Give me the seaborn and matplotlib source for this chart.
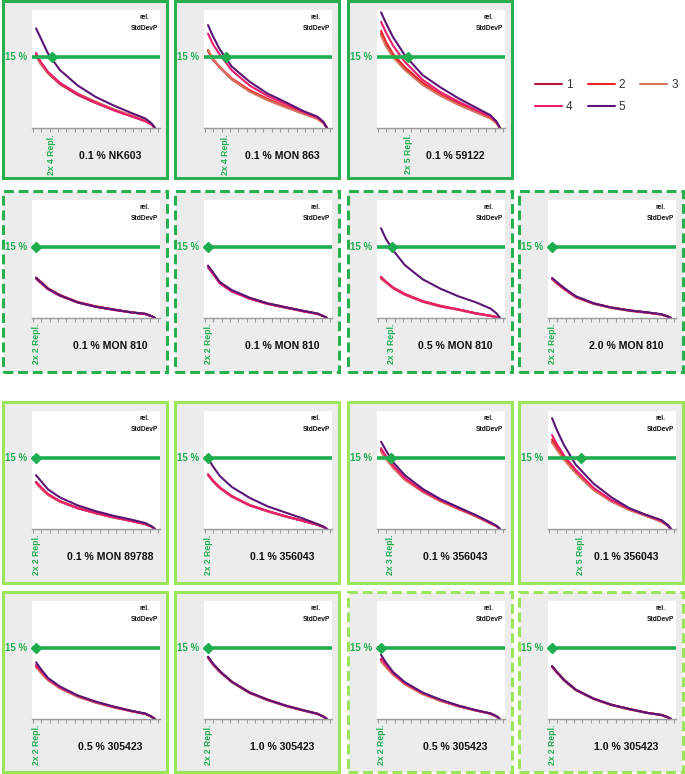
import numpy as np
import pandas as pd
import matplotlib
matplotlib.use("Agg")
import matplotlib.pyplot as plt
import seaborn as sns
from matplotlib.patches import Rectangle
from matplotlib.transforms import blended_transform_factory

sns.set_theme(style="white")
plt.rcParams["font.family"] = ["Liberation Sans", "DejaVu Sans"]

# ---------------- data ----------------
X = [0, 4, 10, 20, 35, 50, 65, 80, 92, 97, 100]
SERIES = ["1", "2", "3", "4", "5"]

NK603 = [
    [15.4, 13.6, 11.6, 9.3, 7.0, 5.3, 3.8, 2.5, 1.5, 0.8, 0],
    [15.6, 13.8, 11.8, 9.5, 7.2, 5.5, 3.9, 2.6, 1.5, 0.8, 0],
    [15.2, 13.5, 11.7, 9.5, 7.3, 5.6, 4.0, 2.7, 1.6, 0.8, 0],
    [15.9, 14.0, 11.9, 9.6, 7.2, 5.4, 3.8, 2.5, 1.4, 0.7, 0],
    [21.1, 19.0, 15.8, 12.3, 9.0, 6.6, 4.8, 3.2, 2.0, 1.0, 0],
]
MON863 = [
    [16.5, 14.6, 12.8, 10.3, 7.8, 6.0, 4.5, 3.1, 2.0, 1.1, 0],
    [16.3, 14.5, 12.9, 10.5, 8.0, 6.2, 4.6, 3.2, 2.0, 1.1, 0],
    [16.6, 14.7, 12.9, 10.3, 7.7, 5.9, 4.4, 3.0, 1.9, 1.0, 0],
    [20.0, 17.8, 15.5, 12.2, 9.0, 6.8, 5.1, 3.4, 2.2, 1.2, 0],
    [21.8, 19.5, 16.6, 13.0, 9.8, 7.3, 5.5, 3.6, 2.4, 1.3, 0],
]
E59122 = [
    [20.0, 17.8, 15.3, 12.6, 9.4, 7.0, 5.1, 3.4, 2.1, 1.1, 0],
    [20.6, 18.3, 15.7, 12.9, 9.6, 7.1, 5.2, 3.5, 2.2, 1.2, 0],
    [19.6, 17.4, 15.0, 12.3, 9.1, 6.8, 4.9, 3.3, 2.0, 1.0, 0],
    [22.5, 20.3, 17.5, 14.0, 10.2, 7.6, 5.6, 3.8, 2.4, 1.3, 0],
    [24.5, 22.3, 19.3, 15.4, 11.2, 8.6, 6.3, 4.3, 2.7, 1.4, 0],
]
MON810_01A = [
    [8.4, 7.5, 6.2, 4.8, 3.3, 2.4, 1.8, 1.2, 0.85, 0.4, 0],
    [8.6, 7.7, 6.3, 4.9, 3.4, 2.5, 1.8, 1.2, 0.85, 0.4, 0],
    [8.5, 7.6, 6.2, 4.8, 3.3, 2.4, 1.8, 1.2, 0.85, 0.4, 0],
    [8.3, 7.4, 6.1, 4.7, 3.3, 2.4, 1.7, 1.2, 0.8, 0.4, 0],
    [8.5, 7.6, 6.2, 4.8, 3.3, 2.4, 1.8, 1.2, 0.9, 0.4, 0],
]
MON810_01B = [
    [10.9, 9.5, 7.4, 5.7, 4.1, 3.0, 2.2, 1.5, 0.9, 0.4, 0],
    [11.0, 9.6, 7.5, 5.8, 4.2, 3.1, 2.3, 1.5, 0.9, 0.4, 0],
    [10.8, 9.4, 7.4, 5.7, 4.1, 3.0, 2.2, 1.4, 0.9, 0.4, 0],
    [10.7, 9.4, 7.3, 5.6, 4.1, 3.0, 2.2, 1.4, 0.85, 0.4, 0],
    [11.1, 9.7, 7.6, 5.9, 4.3, 3.1, 2.3, 1.5, 0.95, 0.4, 0],
]
MON810_05 = [
    [8.5, 7.6, 6.4, 5.0, 3.5, 2.5, 1.8, 0.95, 0.45, 0.2, 0],
    [8.7, 7.7, 6.5, 5.1, 3.6, 2.6, 1.8, 1.0, 0.5, 0.2, 0],
    [8.3, 7.5, 6.3, 4.9, 3.4, 2.4, 1.7, 0.9, 0.45, 0.2, 0],
    [8.6, 7.7, 6.4, 5.0, 3.5, 2.5, 1.8, 0.95, 0.45, 0.2, 0],
    [19.0, 16.8, 14.4, 11.2, 8.2, 6.2, 4.6, 3.3, 2.0, 1.0, 0],
]
MON810_20 = [
    [8.3, 7.4, 6.2, 4.4, 3.0, 2.2, 1.6, 1.15, 0.75, 0.35, 0],
    [8.4, 7.5, 6.3, 4.5, 3.1, 2.2, 1.6, 1.15, 0.75, 0.35, 0],
    [8.2, 7.3, 6.1, 4.4, 3.0, 2.1, 1.5, 1.1, 0.7, 0.35, 0],
    [8.3, 7.4, 6.2, 4.5, 3.1, 2.2, 1.6, 1.15, 0.75, 0.35, 0],
    [8.5, 7.6, 6.4, 4.6, 3.1, 2.2, 1.6, 1.2, 0.8, 0.35, 0],
]
MON89788 = [
    [9.8, 8.7, 7.3, 5.8, 4.4, 3.4, 2.5, 1.7, 1.05, 0.5, 0],
    [9.9, 8.8, 7.4, 5.9, 4.5, 3.4, 2.5, 1.7, 1.05, 0.5, 0],
    [9.7, 8.6, 7.2, 5.8, 4.4, 3.3, 2.4, 1.7, 1.0, 0.5, 0],
    [10.0, 8.9, 7.4, 5.9, 4.4, 3.4, 2.5, 1.7, 1.05, 0.5, 0],
    [11.4, 10.2, 8.4, 6.7, 5.0, 3.8, 2.8, 2.0, 1.25, 0.6, 0],
]
E356043_2 = [
    [11.5, 10.2, 8.7, 6.9, 5.0, 3.8, 2.7, 1.7, 0.9, 0.45, 0],
    [11.6, 10.3, 8.8, 7.0, 5.1, 3.8, 2.7, 1.7, 0.9, 0.45, 0],
    [11.4, 10.1, 8.6, 6.8, 5.0, 3.7, 2.6, 1.7, 0.9, 0.45, 0],
    [11.5, 10.2, 8.7, 6.9, 5.0, 3.8, 2.7, 1.7, 0.9, 0.45, 0],
    [15.0, 13.3, 11.2, 8.9, 6.6, 4.8, 3.5, 2.2, 1.05, 0.5, 0],
]
E356043_3 = [
    [16.5, 15.0, 13.1, 10.5, 7.9, 5.9, 4.3, 2.7, 1.2, 0.6, 0],
    [16.8, 15.3, 13.3, 10.6, 8.0, 6.0, 4.3, 2.7, 1.2, 0.6, 0],
    [16.4, 14.9, 13.0, 10.4, 7.9, 5.9, 4.2, 2.6, 1.2, 0.6, 0],
    [17.1, 15.5, 13.5, 10.8, 8.1, 6.1, 4.4, 2.8, 1.3, 0.6, 0],
    [18.5, 16.7, 14.2, 11.4, 8.5, 6.3, 4.6, 2.9, 1.4, 0.7, 0],
]
E356043_5 = [
    [18.5, 17.0, 14.9, 12.0, 8.4, 5.9, 4.1, 2.7, 1.6, 0.8, 0],
    [19.0, 17.5, 15.2, 12.2, 8.5, 6.0, 4.2, 2.8, 1.6, 0.8, 0],
    [18.3, 16.8, 14.7, 11.8, 8.2, 5.8, 4.0, 2.7, 1.5, 0.8, 0],
    [19.9, 18.0, 15.6, 12.5, 8.7, 6.1, 4.3, 2.9, 1.7, 0.8, 0],
    [23.5, 21.0, 17.8, 13.6, 9.6, 6.7, 4.4, 2.9, 1.9, 0.9, 0],
]
E305423_05A = [
    [11.2, 10.0, 8.3, 6.6, 4.8, 3.5, 2.5, 1.65, 1.05, 0.5, 0],
    [11.3, 10.1, 8.4, 6.7, 4.9, 3.6, 2.55, 1.7, 1.1, 0.5, 0],
    [11.0, 9.8, 8.2, 6.5, 4.7, 3.5, 2.5, 1.65, 1.05, 0.5, 0],
    [11.4, 10.2, 8.5, 6.7, 4.9, 3.6, 2.6, 1.7, 1.1, 0.5, 0],
    [12.0, 10.6, 8.7, 6.9, 5.0, 3.7, 2.65, 1.75, 1.15, 0.5, 0],
]
E305423_10A = [
    [13.0, 11.6, 10.0, 7.8, 5.5, 4.0, 2.8, 1.8, 1.1, 0.5, 0],
    [13.1, 11.7, 10.1, 7.9, 5.6, 4.1, 2.85, 1.85, 1.1, 0.5, 0],
    [12.9, 11.5, 9.9, 7.8, 5.5, 4.0, 2.8, 1.8, 1.1, 0.5, 0],
    [13.1, 11.7, 10.0, 7.9, 5.6, 4.1, 2.85, 1.85, 1.1, 0.5, 0],
    [13.2, 11.8, 10.1, 7.9, 5.6, 4.1, 2.85, 1.85, 1.1, 0.5, 0],
]
E305423_05B = [
    [12.6, 11.3, 9.6, 7.5, 5.4, 3.9, 2.75, 1.8, 1.15, 0.55, 0],
    [12.4, 11.1, 9.5, 7.4, 5.3, 3.9, 2.7, 1.8, 1.15, 0.55, 0],
    [12.2, 11.0, 9.4, 7.4, 5.3, 3.8, 2.7, 1.75, 1.1, 0.55, 0],
    [12.8, 11.5, 9.7, 7.6, 5.5, 4.0, 2.8, 1.8, 1.15, 0.55, 0],
    [13.6, 12.0, 10.0, 7.8, 5.6, 4.1, 2.85, 1.85, 1.2, 0.6, 0],
]
E305423_10B = [
    [11.1, 9.9, 8.2, 6.1, 4.3, 3.0, 2.1, 1.3, 0.85, 0.4, 0],
    [11.2, 10.0, 8.3, 6.2, 4.3, 3.0, 2.1, 1.3, 0.85, 0.4, 0],
    [11.0, 9.8, 8.2, 6.1, 4.2, 2.9, 2.0, 1.3, 0.85, 0.4, 0],
    [11.1, 9.9, 8.3, 6.2, 4.3, 3.0, 2.1, 1.3, 0.85, 0.4, 0],
    [11.2, 10.0, 8.3, 6.2, 4.3, 3.0, 2.1, 1.3, 0.85, 0.4, 0],
]

PANEL_DATA = [NK603, MON863, E59122, None,
              MON810_01A, MON810_01B, MON810_05, MON810_20,
              MON89788, E356043_2, E356043_3, E356043_5,
              E305423_05A, E305423_10A, E305423_05B, E305423_10B]
TITLES = ["0.1 % NK603", "0.1 % MON 863", "0.1 % 59122", None,
          "0.1 % MON 810", "0.1 % MON 810", "0.5 % MON 810", "2.0 % MON 810",
          "0.1 % MON 89788", "0.1 % 356043", "0.1 % 356043", "0.1 % 356043",
          "0.5 % 305423", "1.0 % 305423", "0.5 % 305423", "1.0 % 305423"]
REPL = ["2x 4 Repl.", "2x 4 Repl.", "2x 5 Repl.", None,
        "2x 2 Repl.", "2x 2 Repl.", "2x 3 Repl.", "2x 2 Repl.",
        "2x 2 Repl.", "2x 2 Repl.", "2x 3 Repl.", "2x 5 Repl.",
        "2x 2 Repl.", "2x 2 Repl.", "2x 2 Repl.", "2x 2 Repl."]
DIAMOND_X = [13, 15, 23, None,
             0, 0, 9, 0,
             0, 0, 8, 24,
             0, 0, 0, 0]
THRESHOLD = 15

# ---------------- style ----------------
COLORS = ["#b5173c", "#e8252b", "#d9735e", "#ea1e6e", "#5b1675"]
PALETTE = dict(zip(SERIES, COLORS))
GREEN = "#1fae4f"
DARK_BORDER = "#27b04d"
LIGHT_BORDER = "#9ae55a"
BORDER = [(DARK_BORDER, "-")] * 4 + [(DARK_BORDER, "dash")] * 4 + \
         [(LIGHT_BORDER, "-")] * 4 + \
         [(LIGHT_BORDER, "-"), (LIGHT_BORDER, "-"), (LIGHT_BORDER, "dash"), (LIGHT_BORDER, "dash")]

W_PX, H_PX = 685, 774
COL_L = [3, 175, 348, 519]
ROW_T = [1, 191, 402, 592]
ROW_H = [177, 181, 181, 180]
PANEL_W = 164

fig = plt.figure(figsize=(W_PX / 100, H_PX / 100), dpi=100)
fig.patch.set_facecolor("white")


def fx(p):
    return p / W_PX


def fy(p):
    return 1 - p / H_PX


ticks = [-2.5 + 7 * k for k in range(16)]
legend_handles = None

for i, data in enumerate(PANEL_DATA):
    if data is None:
        continue
    r, c = divmod(i, 4)
    L, T, H = COL_L[c], ROW_T[r], ROW_H[r]
    col, ls = BORDER[i]
    rect = Rectangle((fx(L), fy(T + H)), PANEL_W / W_PX, H / H_PX,
                     transform=fig.transFigure, facecolor="#ececec",
                     edgecolor=col, lw=2.2,
                     linestyle=(0, (3.2, 1.6)) if ls == "dash" else "-",
                     zorder=0)
    fig.add_artist(rect)

    ax = fig.add_axes([fx(L + 29), fy(T + 127), 128 / W_PX, 118 / H_PX])
    ax.set_facecolor("white")
    df = pd.DataFrame({
        "x": np.tile(X, len(SERIES)),
        "y": np.concatenate([np.asarray(s, float) for s in data]),
        "series": np.repeat(SERIES, len(X)),
    })
    sns.lineplot(data=df, x="x", y="y", hue="series", hue_order=SERIES,
                 palette=PALETTE, legend=False, ax=ax, linewidth=1.5,
                 estimator=None, sort=False)
    if legend_handles is None:
        legend_handles = list(ax.get_lines()[:5])

    ax.axhline(THRESHOLD, color=GREEN, lw=2.6, zorder=4)
    dx = DIAMOND_X[i]
    ax.plot([dx], [THRESHOLD], marker="D", ms=5, color=GREEN, zorder=5,
            clip_on=False)

    ax.set_xlim(-3.4, 104.2)
    ax.set_ylim(0, 25)
    ax.set_xticks(ticks)
    ax.set_yticks([])
    ax.set_xlabel("")
    ax.set_ylabel("")
    ax.tick_params(axis="x", bottom=True, length=3, width=0.8, color="#9a9a9a",
                   labelbottom=False, direction="out")
    for s in ["top", "left", "right"]:
        ax.spines[s].set_visible(False)
    ax.spines["bottom"].set_color("#9a9a9a")
    ax.spines["bottom"].set_linewidth(1.0)

    ax.text(-0.035, THRESHOLD, "15 %", transform=blended_transform_factory(ax.transAxes, ax.transData),
            ha="right", va="center", fontsize=7, fontweight="bold", color=GREEN)
    ax.text(0.875, 0.965, "rel.\nStdDevP", transform=ax.transAxes, ha="center", va="top",
            fontsize=4.8, fontweight="bold", color="#111111", linespacing=1.7)
    ax.text(dx, -0.05, REPL[i], transform=blended_transform_factory(ax.transData, ax.transAxes),
            ha="center", va="top", rotation=90, fontsize=6.2, fontweight="bold", color=GREEN)
    ax.text(0.61, -0.237, TITLES[i], transform=ax.transAxes, ha="center", va="center",
            fontsize=7.6, fontweight="bold", color="#111111")

# legend filled row by row: 1 2 3 / 4 5
order = [0, 3, 1, 4, 2]
fig.legend([legend_handles[k] for k in order], [SERIES[k] for k in order],
           loc="center left", bbox_to_anchor=(fx(529), fy(96)), ncol=3,
           frameon=False, fontsize=8.5, handlelength=2.3, handletextpad=0.35,
           columnspacing=1.25, labelspacing=0.9, borderpad=0,
           labelcolor="#333333")

fig.savefig("out.png", dpi=100)
